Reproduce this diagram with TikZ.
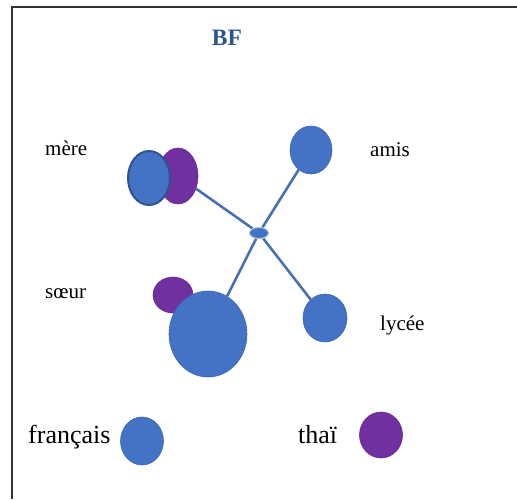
\documentclass[tikz,border=0pt]{standalone}
\usepackage{fontspec}
\setmainfont{Liberation Serif}
\usetikzlibrary{shapes.geometric,backgrounds}
\definecolor{bfblue}{RGB}{68, 114, 196}
\definecolor{bfpurple}{RGB}{112, 48, 160}
\definecolor{bfedge}{RGB}{47, 82, 143}
\definecolor{bftitle}{RGB}{43, 87, 140}
\definecolor{bfline}{RGB}{74, 112, 178}

\tikzset{
    blob/.style={ellipse,inner sep=0pt,fill=#1,draw=#1!90!black,line width=0.6pt},
    lbl/.style={anchor=base west,inner sep=0pt,font=\fontsize{21}{24}\selectfont},
    biglbl/.style={anchor=base west,inner sep=0pt,font=\fontsize{26}{30}\selectfont},
    link/.style={bfline,line width=2.6pt}
}

\begin{document}
\begin{tikzpicture}[x=1pt,y=-1pt]
        \useasboundingbox (0,0) rectangle (517,499);
        \draw[black!80,line width=2pt] (12,499) -- (12,7) -- (517,7);

        \coordinate (hub) at (259,233);
        \coordinate (m1) at (178,176);
        \coordinate (m2) at (149,178);
        \coordinate (a1) at (311,150);
        \coordinate (s1) at (173,295);
        \coordinate (s2) at (208,334);
        \coordinate (y1) at (325,318);
        \coordinate (f1) at (142,441);
        \coordinate (t1) at (381,435);

        \node[anchor=base,font=\fontsize{23.5}{26}\selectfont\bfseries,text=bftitle] (title) at (227,45) {BF};

        \node[blob=bfpurple,minimum width=40pt,minimum height=56pt] (merep) at (m1){};
        \node[ellipse,inner sep=0pt,fill=bfblue,draw=bfedge,line width=2pt,minimum width=42pt,minimum height=54pt] (mereb) at (m2){};
        \node[blob=bfblue,minimum width=42pt,minimum height=48pt] (amis) at (a1){};
        \node[blob=bfpurple,minimum width=40pt,minimum height=36pt] (soeurp) at (s1){};
        \node[blob=bfblue,minimum width=78pt,minimum height=86pt] (soeurb) at (s2){};
        \node[blob=bfblue,minimum width=44pt,minimum height=48pt] (lycee) at (y1){};
        \node[ellipse,inner sep=0pt,fill=bfblue,draw=bfblue!45!white,line width=1pt,minimum width=19pt,minimum height=11pt] (centre) at (hub){};
        \node[blob=bfblue,minimum width=43pt,minimum height=48pt] (fr) at (f1){};
        \node[blob=bfpurple,minimum width=43pt,minimum height=46pt] (th) at (t1){};

        \node[lbl] (lmere) at (45,155) {mère};
        \node[lbl] (lamis) at (370,156) {amis};
        \node[lbl] (lsoeur) at (45,298) {sœur};
        \node[lbl] (llycee) at (380,330) {lycée};
        \node[biglbl] (lfr) at (28,443) {français};
        \node[biglbl] (lth) at (298,443) {thaï};

        \begin{scope}[on background layer]
        \draw[link] (centre) -- (merep);
        \draw[link] (centre) -- (amis);
        \draw[link] (centre) -- (soeurb);
        \draw[link] (centre) -- (lycee);
        \end{scope}
    \end{tikzpicture}
\end{document}
